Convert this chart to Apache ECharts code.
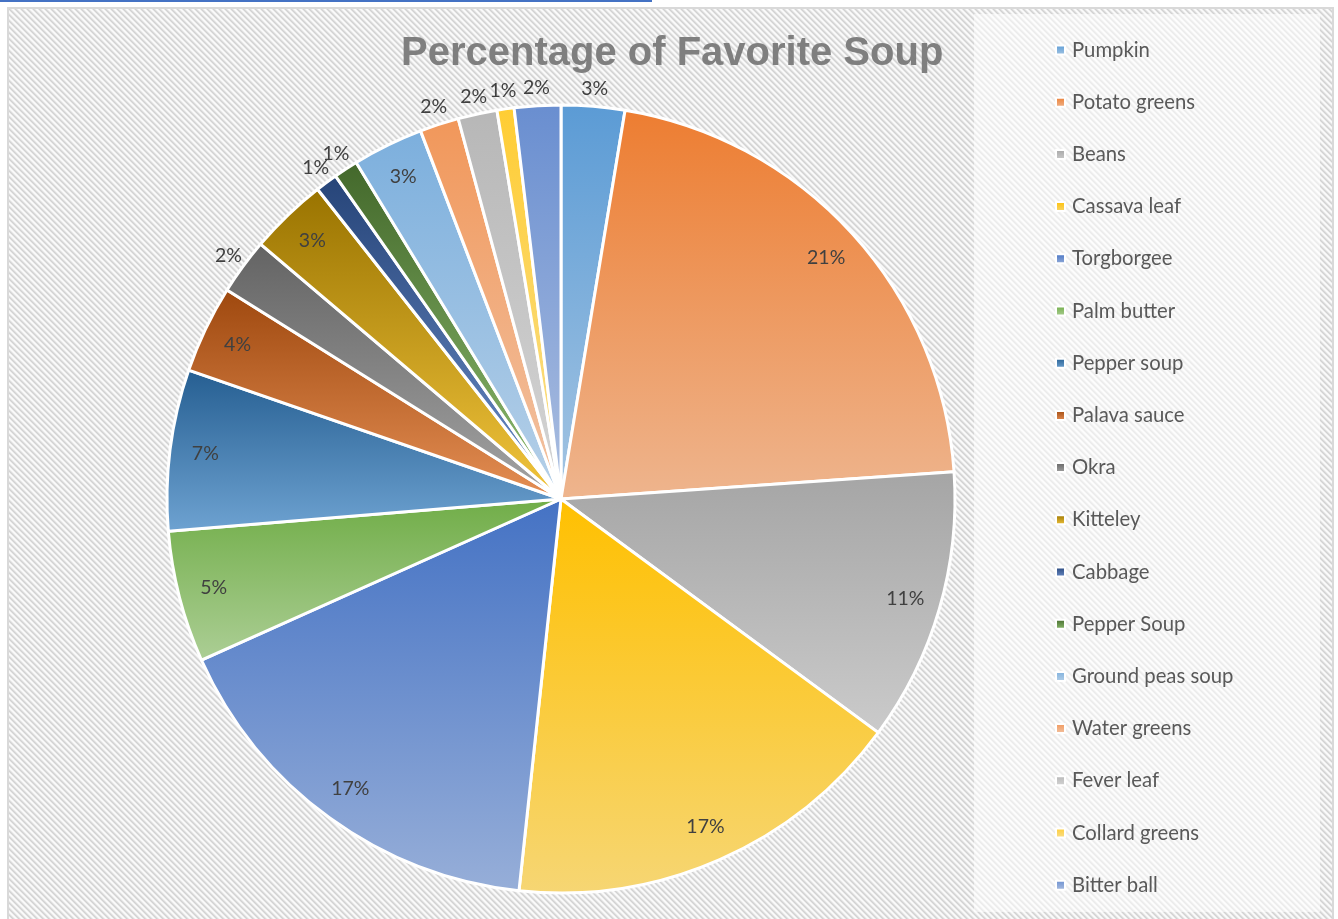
<!DOCTYPE html>
<html>
<head>
<meta charset="utf-8">
<title>Percentage of Favorite Soup</title>
<script src="https://cdn.jsdelivr.net/npm/echarts@6/dist/echarts.min.js"></script>
<style>
  html, body { margin: 0; padding: 0; background: #ffffff; }
  #chart { width: 1338px; height: 919px; }
</style>
</head>
<body>
<div id="chart"></div>
<script>
// Soup names, in drawing order (clockwise from 12 o'clock)
const soups = [
  'Pumpkin', 'Potato greens', 'Beans', 'Cassava leaf', 'Torgborgee',
  'Palm butter', 'Pepper soup', 'Palava sauce', 'Okra', 'Kitteley',
  'Cabbage', 'Pepper Soup', 'Ground peas soup', 'Water greens',
  'Fever leaf', 'Collard greens', 'Bitter ball'
];

// Share of respondents choosing each soup (%)
const shares = [
  2.6, 21.3, 11.2, 16.6, 16.6,
  5.4, 6.6, 3.6, 2.3, 3.2,
  0.9, 1.0, 2.9, 1.6,
  1.6, 0.7, 1.9
];

// Slice colours
const sliceColors = [
  '#5B9BD5', '#ED7D31', '#A5A5A5', '#FFC000', '#4472C4',
  '#70AD47', '#255E91', '#9E480E', '#636363', '#997300',
  '#264478', '#43682B', '#7CAFDD', '#F1975A',
  '#B7B7B7', '#FFCD33', '#698ED0'
];

// Slices whose percentage sits just outside the rim
const rimLabels = ['Pumpkin', 'Okra', 'Cabbage', 'Pepper Soup', 'Water greens',
                   'Fever leaf', 'Collard greens', 'Bitter ball'];

const CX = 561, CY = 499, R = 394;

function hexToRgb(h) {
  const n = parseInt(h.slice(1), 16);
  return [(n >> 16) & 255, (n >> 8) & 255, n & 255];
}
function rgbToHsl(r, g, b) {
  r /= 255; g /= 255; b /= 255;
  const mx = Math.max(r, g, b), mn = Math.min(r, g, b);
  let h = 0, s = 0; const l = (mx + mn) / 2;
  if (mx !== mn) {
    const d = mx - mn;
    s = l > 0.5 ? d / (2 - mx - mn) : d / (mx + mn);
    if (mx === r) h = (g - b) / d + (g < b ? 6 : 0);
    else if (mx === g) h = (b - r) / d + 2;
    else h = (r - g) / d + 4;
    h /= 6;
  }
  return [h, s, l];
}
function hslStr(h, s, l) {
  return 'hsl(' + (h * 360).toFixed(1) + ',' + (s * 100).toFixed(1) + '%,' + (l * 100).toFixed(1) + '%)';
}
// Vertical gradient: base colour at the top, a lighter tint at the bottom
function sliceFill(hex) {
  const [h, s, l] = rgbToHsl(...hexToRgb(hex));
  const light = hslStr(h, s * 0.88, l + (1 - l) * 0.42);
  return {
    type: 'linear', x: 0, y: 0, x2: 0, y2: 1,
    colorStops: [{ offset: 0, color: hex }, { offset: 1, color: light }]
  };
}

// Diagonal hatch used for the chart area
function hatchTile() {
  const n = 6;
  const c = document.createElement('canvas');
  c.width = n; c.height = n;
  const ctx = c.getContext('2d');
  const shades = ['#d2d2d2', '#dcdcdc', '#ececec', '#fafafa', '#fafafa', '#e8e8e8'];
  for (let y = 0; y < n; y++) {
    for (let x = 0; x < n; x++) {
      const d = (((x - y) % n) + n) % n;
      ctx.fillStyle = shades[d];
      ctx.fillRect(x, y, 1, 1);
    }
  }
  return c;
}

const total = shares.reduce((a, b) => a + b, 0);
const pieData = soups.map((name, i) => ({
  name: name,
  value: shares[i],
  itemStyle: { color: sliceFill(sliceColors[i]) }
}));

const chart = echarts.init(document.getElementById('chart'), null, { renderer: 'canvas' });

chart.setOption({
  animation: false,
  backgroundColor: '#ffffff',
  title: {
    text: 'Percentage of Favorite Soup',
    left: 401,
    top: 34,
    padding: 0,
    textStyle: {
      fontFamily: 'Liberation Sans, Arial, sans-serif',
      fontWeight: 'bold',
      fontSize: 40,
      lineHeight: 40,
      color: '#7f7f7f'
    }
  },
  graphic: [
    { type: 'rect', z: -10, silent: true,
      shape: { x: 8, y: 8, width: 1325, height: 930 },
      style: { fill: { image: hatchTile(), repeat: 'repeat' }, stroke: '#d9d9d9', lineWidth: 2 } },
    { type: 'rect', z: -9, silent: true,
      shape: { x: 974, y: 14, width: 346, height: 898 },
      style: { fill: 'rgba(255,255,255,0.55)' } },
    { type: 'rect', z: -8, silent: true,
      shape: { x: 0, y: 0, width: 652, height: 2 },
      style: { fill: '#4472C4' } }
  ],
  legend: {
    orient: 'vertical',
    left: 1055,
    top: 39,
    padding: 0,
    itemWidth: 9,
    itemHeight: 9,
    itemGap: 30.2,
    icon: 'rect',
    selectedMode: false,
    data: soups,
    textStyle: {
      fontFamily: 'Lato, sans-serif',
      fontSize: 20.3,
      lineHeight: 22,
      color: '#595959',
      padding: [0, 0, 0, 2]
    }
  },
  series: [{
    type: 'pie',
    center: [CX, CY],
    radius: R,
    startAngle: 90,
    clockwise: true,
    avoidLabelOverlap: false,
    silent: true,
    itemStyle: { borderColor: '#ffffff', borderWidth: 3 },
    label: {
      show: true,
      position: 'inside',
      fontFamily: 'Lato, sans-serif',
      fontSize: 19.5,
      color: '#404040',
      formatter: p => Math.round(p.value / total * 100) + '%'
    },
    labelLine: { show: false },
    labelLayout: function (params) {
      const i = params.dataIndex;
      let before = 0;
      for (let k = 0; k < i; k++) before += shares[k];
      const t = (before + shares[i] / 2) / total * Math.PI * 2;
      const rr = rimLabels.indexOf(soups[i]) >= 0 ? R + 18 : R * 0.91;
      return {
        x: CX + rr * Math.sin(t),
        y: CY - rr * Math.cos(t),
        align: 'center',
        verticalAlign: 'middle'
      };
    },
    emphasis: { disabled: true },
    data: pieData
  }]
});
</script>
</body>
</html>
